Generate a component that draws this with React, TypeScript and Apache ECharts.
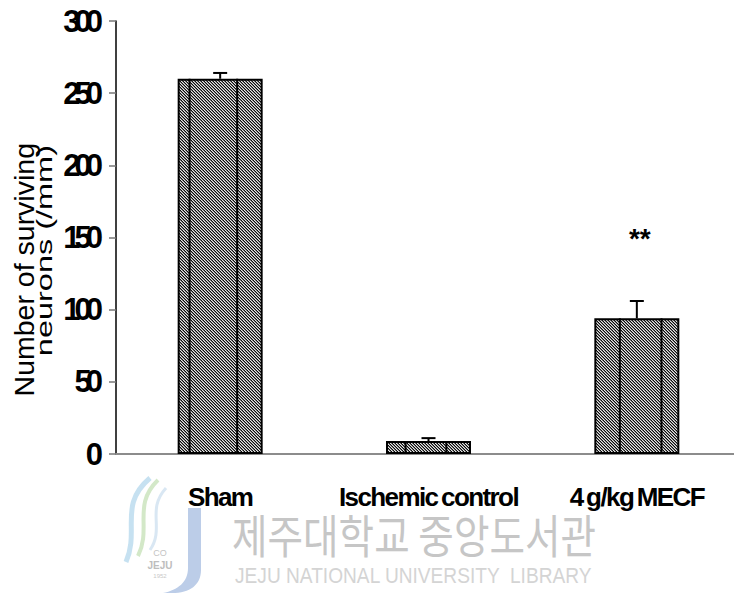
import React, { useEffect, useRef } from 'react';
import * as echarts from 'echarts';

const categories = ['Sham', 'Ischemic control', '4 g/kg MECF'];
const means = [260, 9, 94];
const errors = [4, 2, 12];
const significance = ['', '', '**'];
const yMin = 0;
const yMax = 300;
const yInterval = 50;
const yAxisTitle = ['Number of surviving', 'neurons (/mm)'];
const watermarkKo = '제주대학교 중앙도서관';
const watermarkEn = 'JEJU NATIONAL UNIVERSITY  LIBRARY';

const BAR_WIDTH = 85;
const FONT_Y = "CondY, 'Liberation Sans', Arial, sans-serif";
const FONT_X = "CondX, 'Liberation Sans', Arial, sans-serif";
const SANS = "'Liberation Sans', Arial, sans-serif";

const CSS = `
text[style*="CondY"] { letter-spacing: -6px; }
text[style*="CondX"] { letter-spacing: -1.6px; word-spacing: -2px; }
`;

echarts.graphic.registerShape(
  'jejuJ',
  echarts.graphic.extendPath(
    'M188 508 L201 508 L201 570 C201 585 190 593 172 593 L163 593 C178 590 188 582 188 568 Z',
    {}
  ) as any
);

function makePattern(): HTMLCanvasElement {
  const c = document.createElement('canvas');
  c.width = 3;
  c.height = 3;
  const ctx = c.getContext('2d')!;
  const cols = ['#0a0a0a', '#e6e6e6', '#7a7a7a'];
  for (let y = 0; y < 3; y++) {
    for (let x = 0; x < 3; x++) {
      ctx.fillStyle = cols[(((x - y) % 3) + 3) % 3];
      ctx.fillRect(x, y, 1, 1);
    }
  }
  return c;
}

export default function App() {
  const ref = useRef<HTMLDivElement>(null);

  useEffect(() => {
    if (!ref.current) return;
    const chart = echarts.init(ref.current, undefined, { renderer: 'svg' });
    const pattern = makePattern();
    const innerLineFractions = [
      [0.14, 0.7],
      [0.23, 0.71],
      [0.3, 0.79],
    ];
    const lineStyle = { stroke: '#000', lineWidth: 2 };

    const option: any = {
      animation: false,
      grid: { left: 116, right: 0, top: 21, bottom: 139, containLabel: false },
      xAxis: {
        type: 'category',
        data: categories,
        axisLine: { show: true, lineStyle: { color: '#8c8c8c', width: 2 } },
        axisTick: { show: false },
        axisLabel: {
          color: '#000',
          fontFamily: FONT_X,
          fontWeight: 'bold',
          fontSize: 26,
          margin: 30,
          interval: 0,
        },
        splitLine: { show: false },
      },
      yAxis: {
        type: 'value',
        min: yMin,
        max: yMax,
        interval: yInterval,
        splitLine: { show: false },
        axisLine: { show: true, lineStyle: { color: '#000', width: 1.5 } },
        axisTick: { show: true, length: 7, lineStyle: { color: '#777', width: 1.5 } },
        axisLabel: {
          color: '#000',
          fontFamily: FONT_Y,
          fontWeight: 'bold',
          fontSize: 31,
          margin: 19,
        },
      },
      series: [
        {
          type: 'bar',
          data: means,
          barWidth: BAR_WIDTH,
          itemStyle: {
            color: { image: pattern, repeat: 'repeat', imageWidth: 3, imageHeight: 3 },
            borderColor: '#000',
            borderWidth: 2,
          },
          z: 2,
        },
        {
          type: 'custom',
          z: 3,
          data: categories.map((_, i) => [i, means[i], errors[i]]),
          renderItem: (params: any, api: any) => {
            const i = api.value(0);
            const mean = api.value(1);
            const err = api.value(2);
            const top = api.coord([i, mean]);
            const errTop = api.coord([i, mean + err]);
            const base = api.coord([i, 0]);
            const left = top[0] - BAR_WIDTH / 2;
            const children: any[] = [
              {
                type: 'line',
                shape: { x1: top[0], y1: top[1], x2: errTop[0], y2: errTop[1] },
                style: lineStyle,
              },
              {
                type: 'line',
                shape: { x1: top[0] - 7, y1: errTop[1], x2: top[0] + 7, y2: errTop[1] },
                style: lineStyle,
              },
            ];
            (innerLineFractions[i] || []).forEach((f) => {
              children.push({
                type: 'line',
                shape: { x1: left + f * BAR_WIDTH, y1: top[1], x2: left + f * BAR_WIDTH, y2: base[1] },
                style: lineStyle,
              });
            });
            if (significance[i]) {
              children.push({
                type: 'text',
                x: top[0] + 3,
                y: errTop[1] - 63,
                style: {
                  text: significance[i],
                  font: `bold 28px ${SANS}`,
                  fill: '#000',
                  textAlign: 'center',
                  textVerticalAlign: 'middle',
                  align: 'center',
                  verticalAlign: 'middle',
                },
              });
            }
            return { type: 'group', children };
          },
        },
      ],
      graphic: [
        {
          type: 'text',
          x: 24,
          y: 143,
          rotation: Math.PI / 2,
          style: {
            text: yAxisTitle[0],
            font: `28.5px ${SANS}`,
            fill: '#000',
            textAlign: 'right',
            textVerticalAlign: 'middle',
            align: 'right',
            verticalAlign: 'middle',
          },
        },
        {
          type: 'text',
          x: 45,
          y: 145,
          rotation: Math.PI / 2,
          scaleX: 1.25,
          scaleY: 0.82,
          style: {
            text: yAxisTitle[1],
            font: `26px ${SANS}`,
            fill: '#000',
            textAlign: 'right',
            textVerticalAlign: 'middle',
            align: 'right',
            verticalAlign: 'middle',
          },
        },
        // watermark logo
        {
          type: 'bezierCurve',
          shape: { x1: 150, y1: 478, cpx1: 118, cpy1: 505, cpx2: 140, cpy2: 530, x2: 126, y2: 562 },
          style: { stroke: '#c6e1f1', lineWidth: 5, fill: null },
          silent: true,
        },
        {
          type: 'bezierCurve',
          shape: { x1: 158, y1: 480, cpx1: 132, cpy1: 505, cpx2: 152, cpy2: 528, x2: 138, y2: 556 },
          style: { stroke: '#d3e8c8', lineWidth: 4, fill: null },
          silent: true,
        },
        {
          type: 'bezierCurve',
          shape: { x1: 166, y1: 488, cpx1: 146, cpy1: 510, cpx2: 165, cpy2: 528, x2: 150, y2: 550 },
          style: { stroke: '#d9e7f3', lineWidth: 3, fill: null },
          silent: true,
        },
        {
          type: 'jejuJ',
          x: 0,
          y: 0,
          style: { fill: '#bccde8' },
          silent: true,
        },
        {
          type: 'text',
          x: 160,
          y: 548,
          style: { text: 'CO', font: `9px ${SANS}`, fill: '#c4c4c4', textAlign: 'center', align: 'center' },
          silent: true,
        },
        {
          type: 'text',
          x: 160,
          y: 560,
          style: { text: 'JEJU', font: `bold 10px ${SANS}`, fill: '#bdbdbd', textAlign: 'center', align: 'center' },
          silent: true,
        },
        {
          type: 'text',
          x: 160,
          y: 573,
          style: { text: '1952', font: `6px ${SANS}`, fill: '#c8c8c8', textAlign: 'center', align: 'center' },
          silent: true,
        },
        {
          type: 'text',
          x: 232,
          y: 533,
          scaleX: 0.84,
          style: {
            text: watermarkKo,
            font: "46px 'Noto Sans CJK KR', sans-serif",
            fill: '#c6c6c6',
            textAlign: 'left',
            textVerticalAlign: 'middle',
            align: 'left',
            verticalAlign: 'middle',
          },
          silent: true,
        },
        {
          type: 'text',
          x: 235,
          y: 575,
          scaleX: 0.87,
          style: {
            text: watermarkEn,
            font: `22px ${SANS}`,
            fill: '#d4d4d4',
            textAlign: 'left',
            textVerticalAlign: 'middle',
            align: 'left',
            verticalAlign: 'middle',
          },
          silent: true,
        },
      ],
    };

    chart.setOption(option);
    return () => {
      chart.dispose();
    };
  }, []);

  return (
    <div
      style={{
        position: 'absolute',
        left: 0,
        top: 0,
        width: 734,
        height: 593,
        overflow: 'hidden',
        background: '#fff',
      }}
    >
      <style>{CSS}</style>
      <div ref={ref} style={{ width: 741, height: 593 }} />
    </div>
  );
}
